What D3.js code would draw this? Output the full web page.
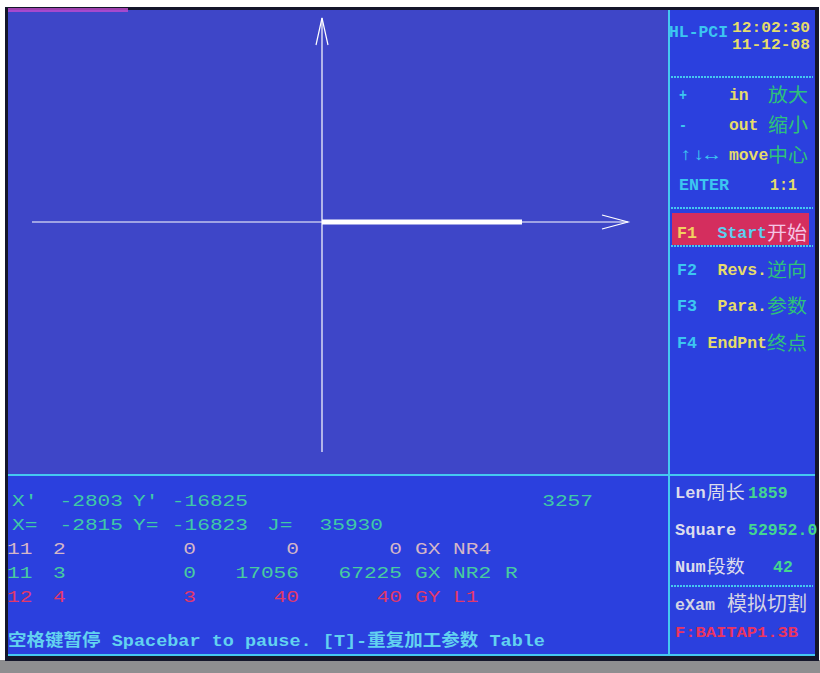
<!DOCTYPE html>
<html><head><meta charset="utf-8">
<script src="https://cdn.jsdelivr.net/npm/d3@7"></script>
<style>
html,body{margin:0;padding:0;background:#fff;}
svg{display:block;}
</style></head>
<body>
<svg id="c" width="820" height="673"></svg>
<script>
// ---- data ----
const xDomain = [-2900, 3060];
const yDomain = [-2300, 2040];
const cutPath = [[0, 0], [2000, 0]];

const rowTexts = [
  ["X'", "-2803", "Y'", "-16825", "", "", "3257"],
  ["X=", "-2815", "Y=", "-16823", "J=", "35930", ""]
];
const tableRows = [
  ["11", "2", "0", "0", "0", "GX", "NR4", ""],
  ["11", "3", "0", "17056", "67225", "GX", "NR2", "R"],
  ["12", "4", "3", "40", "40", "GY", "L1", ""]
];
const statusLine = "空格键暂停 Spacebar to pause. [T]-重复加工参数 Table";
const clock = ["12:02:30", "11-12-08"];
const zoomKeys = [["+", "in", "放大"], ["-", "out", "缩小"], ["↑↓↔", "move", "中心"], ["ENTER", "", "1:1"]];
const fnKeys = [["F1", "Start", "开始"], ["F2", "Revs.", "逆向"], ["F3", "Para.", "参数"], ["F4", "EndPnt", "终点"]];
const stats = [["Len周长", "1859"], ["Square", "52952.0"], ["Num段数", "42"]];
const modeLabel = "eXam 模拟切割";
const fileLabel = "F:BAITAP1.3B";

// ---- drawing ----
const svg = d3.select("#c");
const MONO = "'Liberation Mono','DejaVu Sans Mono',monospace";
const CJK = "'Noto Sans CJK SC','Noto Sans',sans-serif";

// frame
svg.append("rect").attr("x", 0).attr("y", 660).attr("width", 820).attr("height", 13).attr("fill", "#8e8e90");
svg.append("rect").attr("x", 5).attr("y", 7).attr("width", 814).attr("height", 654).attr("fill", "#14162a");
svg.append("rect").attr("x", 8).attr("y", 10).attr("width", 661).attr("height", 465).attr("fill", "#3e46c8");
svg.append("rect").attr("x", 669).attr("y", 10).attr("width", 146).attr("height", 646).attr("fill", "#2b40de");
svg.append("rect").attr("x", 8).attr("y", 475).attr("width", 661).attr("height", 181).attr("fill", "#2b40de");
svg.append("rect").attr("x", 8).attr("y", 8).attr("width", 120).attr("height", 4).attr("fill", "#c04ad0").attr("opacity", 0.8);

// panel lines
const lineCol = "#45c8f0";
svg.append("line").attr("x1", 669).attr("x2", 669).attr("y1", 10).attr("y2", 656).attr("stroke", lineCol).attr("stroke-width", 2);
svg.append("line").attr("x1", 8).attr("x2", 815).attr("y1", 475).attr("y2", 475).attr("stroke", lineCol).attr("stroke-width", 2);
svg.append("line").attr("x1", 8).attr("x2", 815).attr("y1", 655).attr("y2", 655).attr("stroke", lineCol).attr("stroke-width", 2);
[77, 208, 586].forEach(y => {
  svg.append("line").attr("x1", 671).attr("x2", 813).attr("y1", y).attr("y2", y)
    .attr("stroke", lineCol).attr("stroke-width", 2).attr("stroke-dasharray", "2 1");
});

// chart axes
const x = d3.scaleLinear().domain(xDomain).range([32, 628]);
const y = d3.scaleLinear().domain(yDomain).range([452, 18]);
const g = svg.append("g");
g.append("line").attr("x1", x(xDomain[0])).attr("x2", x(xDomain[1])).attr("y1", y(0)).attr("y2", y(0))
  .attr("stroke", "#fff").attr("stroke-width", 1.2);
g.append("line").attr("x1", x(0)).attr("x2", x(0)).attr("y1", y(yDomain[0])).attr("y2", y(yDomain[1]))
  .attr("stroke", "#fff").attr("stroke-width", 1.2);
// arrow heads
const xt = x(xDomain[1]), yt = y(0);
g.append("path").attr("d", `M${xt-26},${yt-7}L${xt},${yt}L${xt-26},${yt+7}`).attr("fill", "none").attr("stroke", "#fff").attr("stroke-width", 1.2);
const xt2 = x(0), yt2 = y(yDomain[1]);
g.append("path").attr("d", `M${xt2-6},${yt2+27}L${xt2},${yt2}L${xt2+6},${yt2+27}`).attr("fill", "none").attr("stroke", "#fff").attr("stroke-width", 1.2);
// cut path
g.append("path").attr("d", d3.line().x(d => x(d[0])).y(d => y(d[1]))(cutPath))
  .attr("fill", "none").attr("stroke", "#fff").attr("stroke-width", 5).attr("stroke-linecap", "butt");

// text helper
function txt(s, px, py, col, opt = {}) {
  const t = svg.append("text").attr("x", px).attr("y", py).text(s)
    .attr("fill", col).attr("font-family", opt.font || MONO).attr("font-size", opt.size || 16)
    .attr("font-weight", opt.weight || "normal");
  if (opt.anchor) t.attr("text-anchor", opt.anchor);
  if (opt.len) t.attr("textLength", opt.len).attr("lengthAdjust", "spacingAndGlyphs");
  return t;
}

// bottom info rows
const CW = 12.7;
const teal = "#3fcaa6";
const r1cols = [[12, "start"], [123, "end"], [133, "start"], [248, "end"], [267, "start"], [383, "end"], [593, "end"]];
rowTexts.forEach((row, i) => {
  const by = 506 + i * 24;
  row.forEach((s, j) => {
    if (!s) return;
    txt(s, r1cols[j][0], by, teal, {size: 17, anchor: r1cols[j][1], len: s.length * CW});
  });
});
const tcols = [[7, "start"], [53, "start"], [196, "end"], [299, "end"], [402, "end"], [415, "start"], [453, "start"], [505, "start"]];
const rowCols = ["#d4b6c8", "#48cc9e", "#e2386a"];
tableRows.forEach((row, i) => {
  const by = 554 + i * 24;
  row.forEach((s, j) => {
    if (!s) return;
    txt(s, tcols[j][0], by, rowCols[i], {size: 17, anchor: tcols[j][1], len: s.length * CW});
  });
});
txt(statusLine, 8, 646, "#62d2f0", {size: 17, weight: "bold", len: 537, font: "'Liberation Mono','Noto Sans CJK SC',monospace"});

// right panel
txt("HL-PCI", 669, 37, "#3cc6f0", {size: 17, weight: "bold", len: 59});
txt(clock[0], 732, 32, "#e6dc6a", {size: 15, weight: "bold", len: 78});
txt(clock[1], 732, 49, "#e6dc6a", {size: 15, weight: "bold", len: 78});

zoomKeys.forEach((k, i) => {
  const by = 100 + i * 30;
  const klen = k[0] === "ENTER" ? 50 : (k[0].length > 1 ? 39 : 8);
  txt(k[0], 679, by, "#3cc6f0", {size: 17, weight: "bold", len: klen});
  if (k[1]) txt(k[1], 729, by, "#e6dc6a", {size: 17, weight: "bold", len: k[1].length * 9.8});
  if (i < 3) txt(k[2], 768, by + 2, "#2ec07a", {font: CJK, size: 19, len: 40});
  else txt(k[2], 770, by, "#e6dc6a", {size: 17, weight: "bold", len: 27});
});

svg.append("rect").attr("x", 672).attr("y", 213).attr("width", 137).attr("height", 32).attr("fill", "#d42e5e");
svg.append("line").attr("x1", 671).attr("x2", 813).attr("y1", 246).attr("y2", 246)
  .attr("stroke", lineCol).attr("stroke-width", 2).attr("stroke-dasharray", "2 1");
fnKeys.forEach((k, i) => {
  const by = 238 + i * 36.5;
  txt(k[0], 677, by, i === 0 ? "#f2d060" : "#3cc6f0", {size: 17, weight: "bold", len: 20});
  txt(k[1], 767, by, i === 0 ? "#5cd0f0" : "#e6dc6a", {size: 17, weight: "bold", anchor: "end", len: k[1].length * 9.9});
  txt(k[2], 767, by + 2, i === 0 ? "#f4c4e4" : "#2ec07a", {font: CJK, size: 19, len: 40});
});

stats.forEach((s, i) => {
  const by = 498 + i * 37;
  const lbl = s[0];
  const latin = lbl.replace(/[^\x00-\x7f]/g, "");
  const cjk = lbl.replace(/[\x00-\x7f]/g, "");
  txt(latin, 675, by, "#dcdcec", {size: 17, weight: "bold", len: latin.length * 10.2});
  if (cjk) txt(cjk, 675 + latin.length * 10.6, by + 1, "#dcdcec", {font: CJK, size: 18, len: 38});
  const vx = i === 2 ? 773 : 748;
  txt(s[1], vx, by, "#44d690", {size: 17, weight: "bold", len: s[1].length * 9.9});
});
txt(modeLabel.split(" ")[0], 675, 610, "#d4d4e4", {size: 17, weight: "bold", len: 40});
txt(modeLabel.split(" ")[1], 727, 611, "#d4d4e4", {font: CJK, size: 20, len: 80});
txt(fileLabel, 675, 637, "#ea3460", {size: 15, weight: "bold", len: 123});
</script>
</body></html>
